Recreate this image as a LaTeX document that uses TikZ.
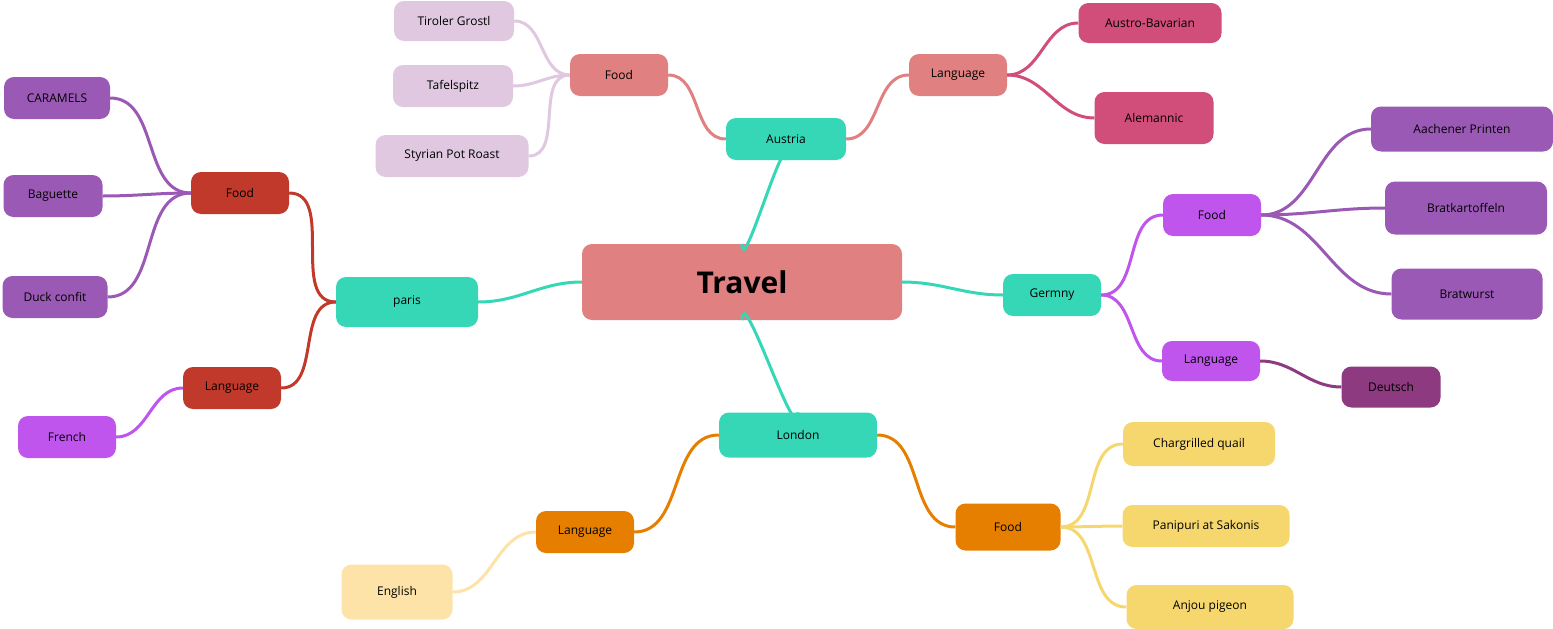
\documentclass[tikz,border=0pt]{standalone}
\usepackage{fontspec}
\setmainfont{Open Sans}
\definecolor{teal}{HTML}{36D7B7}
\definecolor{rose}{HTML}{E08080}
\definecolor{lil}{HTML}{DFC8E0}
\definecolor{mag}{HTML}{D14D7A}
\definecolor{red}{HTML}{C0392B}
\definecolor{pur}{HTML}{9B59B6}
\definecolor{vio}{HTML}{BF55EC}
\definecolor{plum}{HTML}{8E3A80}
\definecolor{ora}{HTML}{E67E00}
\definecolor{yel}{HTML}{F5D76E}
\definecolor{pale}{HTML}{FDE3A7}
\begin{document}
\begin{tikzpicture}[x=1pt,y=-1pt,
  bx/.style={rounded corners=10pt,inner sep=0pt,font=\fontsize{12}{14}\selectfont,text=black},
  ln/.style={line width=3pt},
  L/.style={out=180,in=0},R/.style={out=0,in=180}]
\useasboundingbox (0,0) rectangle (1553,629);
\newcommand\bx[6]{\node[bx,fill=#5,minimum width=#3pt,minimum height=#4pt] (#1) at #2 {#6};}
\bx{T}{(742,282)}{320}{76}{rose}{\fontsize{30}{34}\selectfont\bfseries Travel}
\bx{A}{(786,139)}{120}{42}{teal}{Austria}
\bx{P}{(407,302)}{142}{50}{teal}{paris}
\bx{G}{(1052,295)}{98}{42}{teal}{Germny}
\bx{Lo}{(798,435)}{158}{45}{teal}{London}
\bx{AF}{(619,75)}{98}{42}{rose}{Food}
\bx{AL}{(958,75)}{98}{42}{rose}{Language}
\bx{a1}{(454,21)}{120}{40}{lil}{Tiroler Grostl}
\bx{a2}{(453,86)}{120}{42}{lil}{Tafelspitz}
\bx{a3}{(452,156)}{153}{42}{lil}{Styrian Pot Roast}
\bx{a4}{(1150,23)}{143}{40}{mag}{Austro-Bavarian}
\bx{a5}{(1154,118)}{119}{52}{mag}{Alemannic}
\bx{PF}{(240,193)}{98}{42}{red}{Food}
\bx{PL}{(232,388)}{98}{42}{red}{Language}
\bx{p1}{(57,98)}{106}{42}{pur}{CARAMELS}
\bx{p2}{(53,196)}{99}{42}{pur}{Baguette}
\bx{p3}{(55,297)}{105}{42}{pur}{Duck confit}
\bx{p4}{(67,437)}{98}{42}{vio}{French}
\bx{GF}{(1212,215)}{98}{42}{vio}{Food}
\bx{GL}{(1211,361)}{98}{40}{vio}{Language}
\bx{g1}{(1462,129)}{182}{45}{pur}{Aachener Printen}
\bx{g2}{(1466,208)}{162}{53}{pur}{Bratkartoffeln}
\bx{g3}{(1467,294)}{151}{51}{pur}{Bratwurst}
\bx{g4}{(1391,387)}{99}{41}{plum}{Deutsch}
\bx{LF}{(1008,527)}{105}{47}{ora}{Food}
\bx{LL}{(585,532)}{98}{42}{ora}{Language}
\bx{l1}{(1199,444)}{152}{44}{yel}{Chargrilled quail}
\bx{l2}{(1206,526)}{167}{42}{yel}{Panipuri at Sakonis}
\bx{l3}{(1210,607)}{167}{44}{yel}{Anjou pigeon}
\bx{l4}{(397,592)}{111}{55}{pale}{English}
\begin{scope}[on background layer/.style={}]
\end{scope}
\begin{pgfinterruptboundingbox}\end{pgfinterruptboundingbox}
\draw[ln,teal] (T.north) to[out=-90,in=90] (A.south);
\draw[ln,teal] (T.south) to[out=90,in=-90] (Lo.north);
\draw[ln,teal] (T.west) to[L] (P.east);
\draw[ln,teal] (T.east) to[R] (G.west);
\draw[ln,rose] (A.west) to[L] (AF.east);
\draw[ln,rose] (A.east) to[R] (AL.west);
\foreach \c in {a1,a2,a3}\draw[ln,lil] (AF.west) to[L] (\c.east);
\foreach \c in {a4,a5}\draw[ln,mag] (AL.east) to[R] (\c.west);
\draw[ln,red] (P.west) to[L] (PF.east);
\draw[ln,red] (P.west) to[L] (PL.east);
\foreach \c in {p1,p2,p3}\draw[ln,pur] (PF.west) to[L] (\c.east);
\draw[ln,vio] (PL.west) to[L] (p4.east);
\draw[ln,vio] (G.east) to[R] (GF.west);
\draw[ln,vio] (G.east) to[R] (GL.west);
\foreach \c in {g1,g2,g3}\draw[ln,pur] (GF.east) to[R] (\c.west);
\draw[ln,plum] (GL.east) to[R] (g4.west);
\draw[ln,ora] (Lo.east) to[R] (LF.west);
\draw[ln,ora] (Lo.west) to[L] (LL.east);
\foreach \c in {l1,l2,l3}\draw[ln,yel] (LF.east) to[R] (\c.west);
\draw[ln,pale] (LL.west) to[L] (l4.east);
\end{tikzpicture}
\end{document}
